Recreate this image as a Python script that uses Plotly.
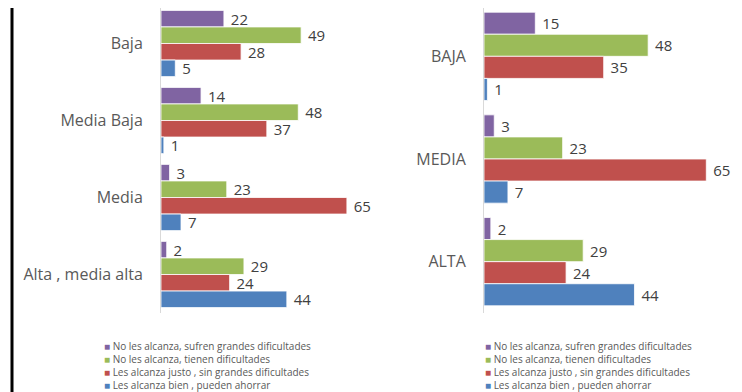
import plotly.graph_objects as go

# series names (legend order, top bar in each group first)
series = [
    "No les alcanza, sufren grandes dificultades",
    "No les alcanza, tienen dificultades",
    "Les alcanza justo , sin grandes dificultades",
    "Les alcanza bien , pueden ahorrar",
]
colors = ["#8064A2", "#9BBB59", "#C0504D", "#4F81BD"]

# left panel
cats_left = ["Baja", "Media Baja", "Media", "Alta , media alta"]
left_sufren = [22, 14, 3, 2]
left_tienen = [49, 48, 23, 29]
left_justo = [28, 37, 65, 24]
left_bien = [5, 1, 7, 44]

# right panel
cats_right = ["BAJA", "MEDIA", "ALTA"]
right_sufren = [15, 3, 2]
right_tienen = [48, 23, 29]
right_justo = [35, 65, 24]
right_bien = [1, 7, 44]

W, H = 742, 392
OFF = 8  # page body margin: the figure sits 8px in from the window corner
font = "'Open Sans', sans-serif"


def px(x):
    return (x - OFF) / W


def py(y):
    return 1 - (y - OFF) / H


fig = go.Figure()

left_vals = [left_sufren, left_tienen, left_justo, left_bien]
right_vals = [right_sufren, right_tienen, right_justo, right_bien]


def add_bars(cats, vals_list, xa, ya):
    for name, col, vals in zip(series, colors, vals_list):
        fig.add_trace(go.Bar(
            y=cats, x=vals, orientation="h", name=name,
            marker=dict(color=col, line=dict(color="rgba(255,255,255,0.8)", width=1)),
            texttemplate=" %{x}", textposition="outside", cliponaxis=False,
            constraintext="none",
            textfont=dict(size=15, color="#404040", family=font),
            xaxis=xa, yaxis=ya, showlegend=False, hoverinfo="x+name",
        ))


add_bars(cats_left, left_vals, "x", "y")
add_bars(cats_right, right_vals, "x2", "y2")

# plot area runs from window y=8 to 313; axes nominally start at y=5
ydom = [py(313), 1]
axis_y = dict(
    showline=True, linecolor="#D9D9D9", linewidth=1,
    showgrid=False, zeroline=False, ticks="", ticklabelstandoff=14,
    automargin=False,
    tickfont=dict(size=16, color="#595959", family=font), domain=ydom,
)
axis_x = dict(visible=False, range=[0, 72], showgrid=False, zeroline=False,
              automargin=False)

# legend drawn as text: coloured square + series name per line
legend_text = "<br>".join(
    f"<span style='color:{c}'>■</span> {s}" for s, c in zip(series, colors)
)
legend_font = dict(size=10, color="#595959", family=font)

fig.update_layout(
    width=W, height=H,
    margin=dict(l=0, r=0, t=0, b=0),
    paper_bgcolor="white", plot_bgcolor="white",
    barmode="group", bargap=0.14, bargroupgap=0,
    showlegend=False,
    xaxis=dict(axis_x, domain=[px(161), px(161 + 72 * 2.86)], anchor="y"),
    yaxis=dict(axis_y, anchor="x", range=[3.5, -0.5 + 3 / 77]),
    xaxis2=dict(axis_x, domain=[px(484), px(484 + 72 * 3.42)], anchor="y2"),
    yaxis2=dict(axis_y, anchor="x2", range=[2.5, -0.5 + 3 / 102.67]),
    annotations=[
        dict(text=legend_text, xref="paper", yref="paper", x=px(x0), y=py(337),
             xanchor="left", yanchor="top", align="left", showarrow=False,
             font=legend_font)
        for x0 in (102, 483)
    ],
    shapes=[dict(type="line", xref="paper", yref="paper",
                 x0=px(12), x1=px(12), y0=0, y1=1,
                 line=dict(color="black", width=3))],
)

fig.write_html("out.html")
